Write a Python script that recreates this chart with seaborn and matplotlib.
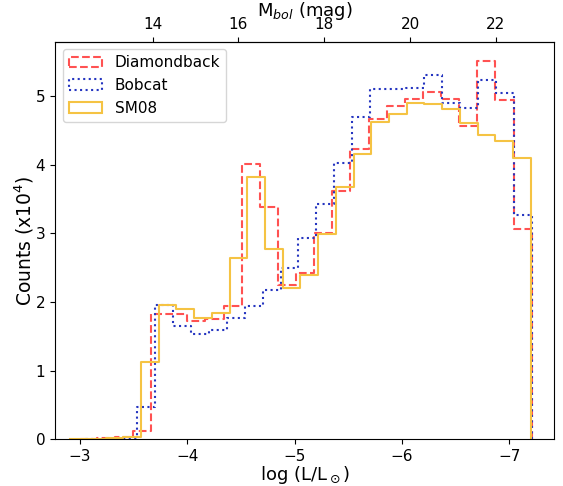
import numpy as np
import matplotlib
matplotlib.use("Agg")
import matplotlib.pyplot as plt
from matplotlib.patches import Patch
import seaborn as sns

# bin ranges in log(L/Lsun) (low, high) - each run was binned over its own range
dback_range = (-7.209, -2.986)
bobcat_range = (-7.215, -3.025)
sm08_range = (-7.200, -2.908)

# counts per bin in units of 1e4, ordered bright -> faint (left -> right on the plot)
dback_counts = [0.01, 0.02, 0.03, 0.13, 1.82, 1.82, 1.73, 1.76, 1.94, 4.01,
                3.38, 2.25, 2.42, 3.00, 3.61, 4.23, 4.66, 4.86, 4.96, 5.06,
                4.96, 4.56, 5.51, 4.94, 3.06]
bobcat_counts = [0.01, 0.01, 0.02, 0.48, 1.96, 1.65, 1.54, 1.60, 1.77, 1.95,
                 2.18, 2.49, 2.93, 3.43, 4.02, 4.70, 5.10, 5.10, 5.12, 5.31,
                 4.90, 4.82, 5.23, 5.05, 3.27]
sm08_counts = [0.01, 0.01, 0.02, 0.04, 1.13, 1.96, 1.90, 1.77, 1.84, 2.64,
               3.82, 2.77, 2.21, 2.40, 2.99, 3.67, 4.15, 4.62, 4.74, 4.90,
               4.88, 4.81, 4.61, 4.43, 4.35, 4.10]

labels = ['Diamondback', 'Bobcat', 'SM08']
colors = ['#ff5252', '#2535c0', '#f5c343']
styles = ['--', ':', '-']

# bolometric magnitude <-> log luminosity
def to_mag(x):
    return 4.81 - 2.5 * x

def to_logl(m):
    return (4.81 - m) / 2.5

fig = plt.figure(figsize=(5.63, 4.86), dpi=100)
ax = fig.add_axes([0.0977, 0.0957, 0.8868, 0.8185])

runs = [(dback_range, dback_counts), (bobcat_range, bobcat_counts), (sm08_range, sm08_counts)]
for (rng, counts), lab, c, ls in zip(runs, labels, colors, styles):
    n = len(counts)
    edges = np.linspace(rng[1], rng[0], n + 1)
    centers = 0.5 * (edges[:-1] + edges[1:])
    sns.histplot(x=centers, weights=counts, bins=n, binrange=rng, element='step',
                 fill=False, color=c, linestyle=ls, linewidth=1.5, ax=ax)
    # close the outline down to zero at both ends (like histtype='step')
    ln = ax.lines[-1]
    xs, ys = np.asarray(ln.get_xdata()), np.asarray(ln.get_ydata())
    ln.set_data(np.r_[xs[0], xs, xs[-1]], np.r_[0, ys, 0])

ax.set_xlim(-2.767, -7.42)
ax.set_ylim(0, 5.79)
ax.set_xticks([-3, -4, -5, -6, -7])
ax.tick_params(labelsize=11)
ax.set_xlabel(r'$\log\,({\rm L/L}_\odot)$', fontsize=13, labelpad=0)
ax.set_ylabel(r'Counts (x10$^4$)', fontsize=13.5, labelpad=0)

top = ax.secondary_xaxis('top', functions=(to_mag, to_logl))
top.set_xticks([14, 16, 18, 20, 22])
top.tick_params(labelsize=11)
top.set_xlabel(r'M$_{bol}$ (mag)', fontsize=13, labelpad=1)

handles = [Patch(facecolor='none', edgecolor=c, linestyle=ls, linewidth=1.5)
           for c, ls in zip(colors, styles)]
ax.legend(handles, labels, loc='upper left', fontsize=11, handlelength=2.2)

fig.savefig('out.png', dpi=100)
